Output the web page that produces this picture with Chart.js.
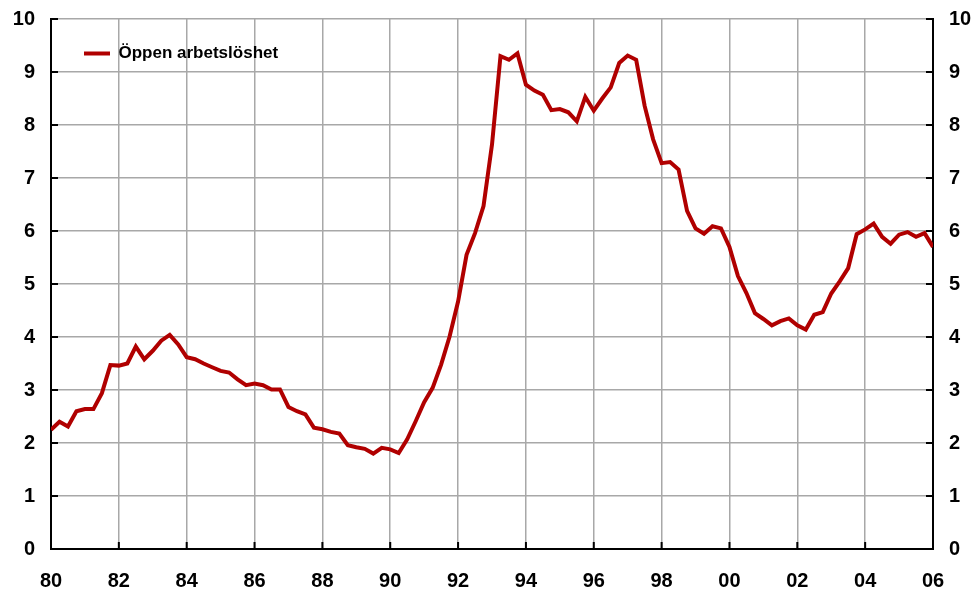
<!DOCTYPE html>
<html>
<head>
<meta charset="utf-8">
<script src="https://cdn.jsdelivr.net/npm/chart.js@4.4.1/dist/chart.umd.min.js"></script>
<style>
  html, body { margin: 0; padding: 0; background: #fff; }
  #wrap { width: 976px; height: 597px; }
</style>
</head>
<body>
<div id="wrap"><canvas id="chart" width="976" height="597"></canvas></div>
<script>
// --- DATOS ---
const seriesName = 'Öppen arbetslöshet';
const firstYear = 1980;   // första kvartalet 1980
const lastYear = 2006;
// Kvartalsvärden 1980K1 - 2006K1 (procent)
const oppenArbetsloshet = [
  2.25, 2.40, 2.31, 2.60, 2.64, 2.64, 2.94, 3.47,
  3.46, 3.50, 3.82, 3.58, 3.74, 3.93, 4.04, 3.86,
  3.62, 3.58, 3.50, 3.43, 3.36, 3.33, 3.20, 3.09,
  3.12, 3.09, 3.01, 3.01, 2.68, 2.60, 2.54, 2.29,
  2.26, 2.21, 2.18, 1.96, 1.92, 1.89, 1.80, 1.91,
  1.88, 1.81, 2.07, 2.41, 2.77, 3.04, 3.48, 4.01,
  4.67, 5.55, 5.96, 6.47, 7.63, 9.30, 9.23, 9.35,
  8.76, 8.65, 8.57, 8.28, 8.30, 8.24, 8.07, 8.53,
  8.27, 8.50, 8.71, 9.17, 9.31, 9.23, 8.36, 7.73,
  7.28, 7.30, 7.16, 6.38, 6.05, 5.95, 6.09, 6.05,
  5.70, 5.15, 4.83, 4.45, 4.34, 4.22, 4.30, 4.35,
  4.22, 4.14, 4.42, 4.47, 4.82, 5.05, 5.30, 5.94,
  6.03, 6.14, 5.89, 5.76, 5.93, 5.98, 5.89, 5.96,
  5.70
];
const xTickLabels = ['80', '82', '84', '86', '88', '90', '92', '94', '96', '98', '00', '02', '04', '06'];
const yTickLabels = ['0', '1', '2', '3', '4', '5', '6', '7', '8', '9', '10'];

// punkter (år + kvartal/4)
const points = oppenArbetsloshet.map((v, i) => ({ x: firstYear + i / 4, y: v }));

const lineColor = '#b00000';
const gridColor = '#a8a8a8';
const fontFamily = '"Liberation Sans", Arial, sans-serif';

// små tickmarkeringar som pekar in i diagrammet
const innerTicks = {
  id: 'innerTicks',
  afterDatasetsDraw(chart) {
    const { ctx, chartArea, scales } = chart;
    ctx.save();
    ctx.strokeStyle = '#000';
    ctx.lineWidth = 2;
    ctx.beginPath();
    for (let v = 0; v < yTickLabels.length; v++) {
      const py = scales.y.getPixelForValue(v);
      ctx.moveTo(chartArea.left, py);
      ctx.lineTo(chartArea.left + 7, py);
      ctx.moveTo(chartArea.right - 7, py);
      ctx.lineTo(chartArea.right, py);
    }
    for (let k = 0; k < xTickLabels.length; k++) {
      const px = scales.x.getPixelForValue(firstYear + k * 2);
      ctx.moveTo(px, chartArea.bottom);
      ctx.lineTo(px, chartArea.bottom - 7);
    }
    ctx.stroke();
    ctx.restore();
  }
};

// flytta förklaringen lite in i diagrammet
const legendShift = {
  id: 'legendShift',
  afterLayout(chart) {
    const lg = chart.legend;
    const dy = 52 - 33 - (chart.chartArea.top - 19);
    lg.top += dy; lg.bottom += dy;
    lg.left += 7; lg.right += 7;
  }
};

// y-axlarna ska inte lägga till extra marginal för etiketterna
const fitY = w => s => { s.width = w; s.paddingTop = 0; s.paddingBottom = 0; };

new Chart(document.getElementById('chart'), {
  type: 'line',
  data: {
    datasets: [{
      label: seriesName,
      data: points,
      borderColor: lineColor,
      backgroundColor: lineColor,
      borderWidth: 4,
      pointRadius: 0,
      tension: 0,
      borderJoinStyle: 'miter'
    }]
  },
  options: {
    responsive: false,
    animation: false,
    layout: { padding: { top: 19, left: 0, right: 0, bottom: 0 } },
    plugins: {
      tooltip: { enabled: false },
      legend: {
        position: 'chartArea',
        align: 'start',
        labels: {
          usePointStyle: true,
          pointStyle: 'line',
          pointStyleWidth: 26,
          padding: 26,
          color: '#000',
          font: { family: fontFamily, size: 17, weight: 'bold' }
        }
      }
    },
    scales: {
      x: {
        type: 'linear',
        min: firstYear,
        max: lastYear,
        afterFit: s => { s.height = 48; },
        ticks: {
          stepSize: 2,
          padding: 20,
          color: '#000',
          font: { family: fontFamily, size: 20, weight: 'bold' },
          callback: v => xTickLabels[Math.round((v - firstYear) / 2)]
        },
        grid: { color: gridColor, lineWidth: 1.5, drawTicks: false },
        border: { color: '#000', width: 2 }
      },
      y: {
        position: 'left',
        min: 0,
        max: 10,
        afterFit: fitY(51),
        ticks: {
          stepSize: 1,
          padding: 16,
          color: '#000',
          font: { family: fontFamily, size: 20, weight: 'bold' },
          callback: v => yTickLabels[v]
        },
        grid: { color: gridColor, lineWidth: 1.5, drawTicks: false },
        border: { color: '#000', width: 2 }
      },
      y2: {
        position: 'right',
        min: 0,
        max: 10,
        afterFit: fitY(43),
        ticks: {
          stepSize: 1,
          padding: 16,
          color: '#000',
          font: { family: fontFamily, size: 20, weight: 'bold' },
          callback: v => yTickLabels[v]
        },
        grid: { display: false, drawTicks: false },
        border: { color: '#000', width: 2 }
      }
    }
  },
  plugins: [innerTicks, legendShift]
});
</script>
</body>
</html>
